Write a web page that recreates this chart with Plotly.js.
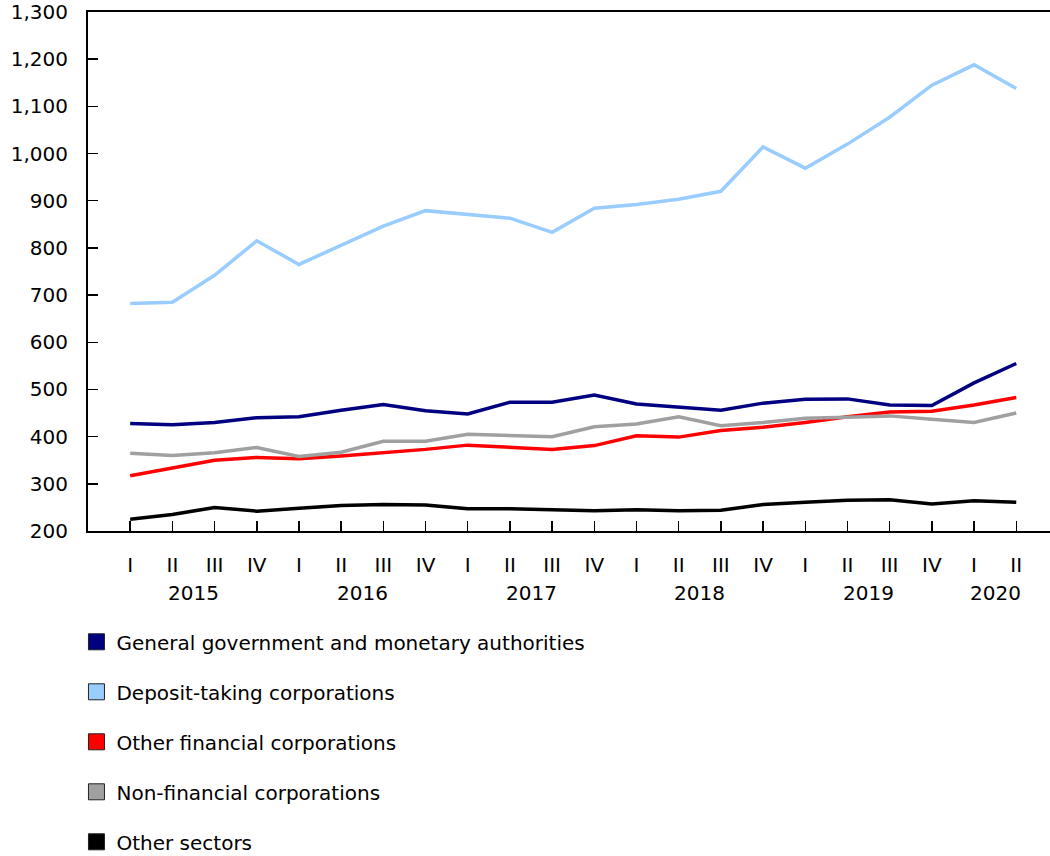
<!DOCTYPE html>
<html>
<head>
<meta charset="utf-8">
<script src="https://cdn.plot.ly/plotly-3.0.1.min.js"></script>
<style>html,body{margin:0;padding:0;background:#fff;}#chart{width:1050px;height:856px;}</style>
</head>
<body>
<div id="chart"></div>
<script>
const quarters = ["I","II","III","IV","I","II","III","IV","I","II","III","IV","I","II","III","IV","I","II","III","IV","I","II"];
const years = ["2015","2016","2017","2018","2019","2020"];
const yearCenters = [1.5, 5.5, 9.5, 13.5, 17.5, 20.5];

const seriesNames = [
  "General government and monetary authorities",
  "Deposit-taking corporations",
  "Other financial corporations",
  "Non-financial corporations",
  "Other sectors"
];
const generalGovernment = [428,425,430,440,442,456,468,455,448,473,473,488,469,463,456,471,479,480,467,466,514,555];
const depositTaking     = [682,685,742,815,765,806,846,879,871,863,833,884,892,903,920,1014,969,1020,1077,1145,1188,1138];
const otherFinancial    = [317,334,350,356,353,359,366,373,382,377,373,381,402,399,413,420,430,442,452,454,467,483];
const nonFinancial      = [365,360,366,377,358,367,390,390,405,403,400,421,427,442,423,430,439,441,444,437,430,450];
const otherSectors      = [225,235,250,242,248,254,256,255,247,247,245,243,245,243,244,256,261,265,266,257,264,261];

const seriesValues = [generalGovernment, depositTaking, otherFinancial, nonFinancial, otherSectors];
const colors = ["#000080", "#99CCFF", "#FF0000", "#A0A0A0", "#000000"];

const xIdx = quarters.map((_, i) => i);
const FONT = "DejaVu Sans, Verdana, sans-serif";
const FS = 20;

const traces = [];
seriesValues.forEach((vals, k) => {
  traces.push({
    type: "scatter", mode: "lines", x: xIdx, y: vals,
    name: seriesNames[k], line: {color: colors[k], width: 3.5},
    showlegend: false, legendgroup: "g" + k, hoverinfo: "y+name"
  });
});
seriesValues.forEach((vals, k) => {
  traces.push({
    type: "scatter", mode: "markers", x: [null], y: [null],
    name: seriesNames[k], legendgroup: "g" + k,
    marker: {symbol: "square", size: 16, color: colors[k], line: {color: "#222", width: 1}},
    showlegend: true, hoverinfo: "skip"
  });
});

const annotations = years.map((yr, i) => ({
  x: yearCenters[i], y: 200, xref: "x", yref: "y",
  yshift: -62, text: yr, showarrow: false,
  font: {family: FONT, size: FS, color: "#000"}
}));

const layout = {
  width: 1050, height: 856,
  margin: {l: 88, r: 0, t: 12, b: 325},
  paper_bgcolor: "#fff", plot_bgcolor: "#fff",
  font: {family: FONT, size: FS, color: "#000"},
  showlegend: true,
  legend: {
    xref: "paper", x: -0.012, xanchor: "left",
    yref: "container", y: 0.273, yanchor: "top",
    orientation: "v", tracegroupgap: 21,
    font: {family: FONT, size: FS, color: "#000"},
    itemwidth: 30, bgcolor: "rgba(0,0,0,0)"
  },
  xaxis: {
    range: [-1, 21.8], tickmode: "array", tickvals: xIdx, ticktext: quarters,
    showgrid: false, zeroline: false, showline: true, linecolor: "#000", linewidth: 2,
    mirror: true, ticks: "inside", ticklen: 10, tickwidth: 1.5, tickcolor: "#000",
    ticklabelstandoff: 15, tickfont: {family: FONT, size: FS, color: "#000"}
  },
  yaxis: {
    range: [200, 1300], tickmode: "linear", tick0: 200, dtick: 100,
    tickformat: ",d", showgrid: false, zeroline: false, showline: true,
    linecolor: "#000", linewidth: 2, ticks: "inside", ticklen: 10, tickwidth: 1.5, tickcolor: "#000",
    ticklabelstandoff: 14, tickfont: {family: FONT, size: FS, color: "#000"}
  },
  annotations: annotations
};

Plotly.newPlot("chart", traces, layout, {displayModeBar: false, staticPlot: true});
</script>
</body>
</html>
